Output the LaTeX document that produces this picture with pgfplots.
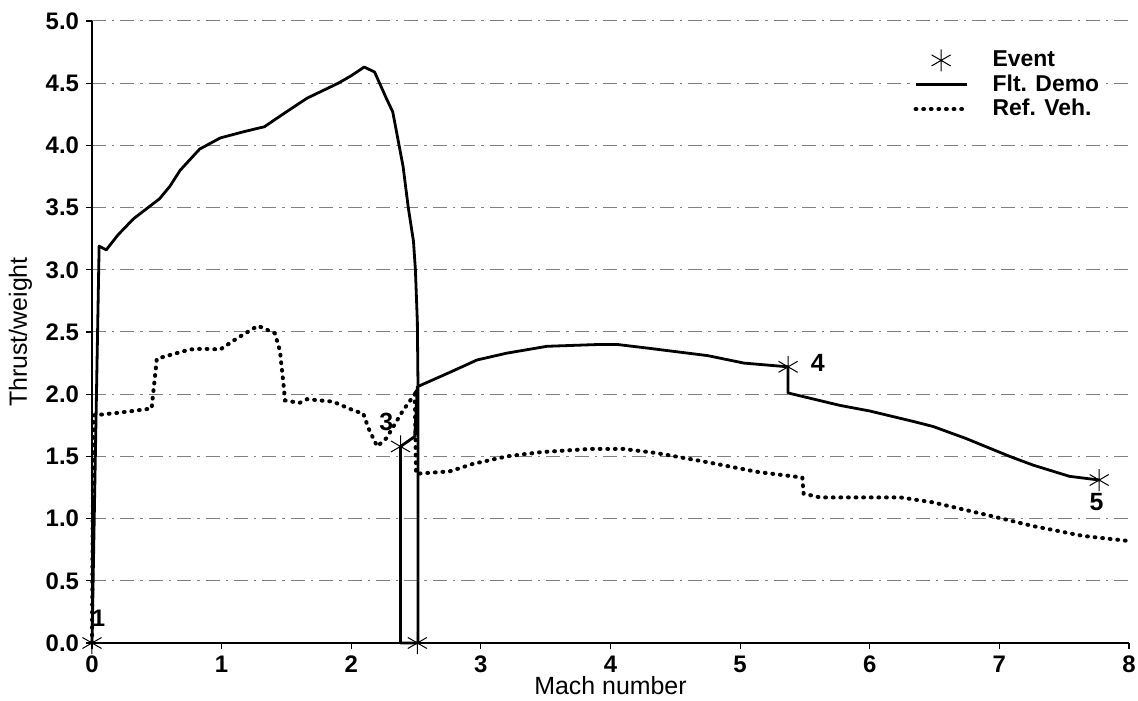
\documentclass[border=0pt]{standalone}
\usepackage{fontspec}
\setmainfont{Liberation Sans}
\usepackage{pgfplots}
\pgfplotsset{compat=1.18}

\begin{document}
\begin{tikzpicture}
\begin{axis}[
  scale only axis,
  width=518.5bp, height=311bp,
  xmin=0, xmax=8, ymin=0, ymax=5,
  clip=false,
  axis x line=bottom, axis y line=left,
  axis line style={-, black, line width=0.8bp},
  tick align=outside,
  major tick length=3bp,
  tick style={black, line width=0.6bp},
  xtick={0,1,...,8},
  ytick={0,0.5,...,5},
  /pgf/number format/assume math mode=true,
  yticklabel style={/pgf/number format/.cd, fixed, fixed zerofill, precision=1},
  tick label style={font=\bfseries\fontsize{12}{14}\selectfont},
  ymajorgrids,
  grid style={gray, line width=0.5bp, dash pattern=on 7bp off 3bp on 1.2bp off 3bp},
  xlabel={Mach number},
  ylabel={Thrust/weight},
  label style={font=\fontsize{12.5}{14}\selectfont},
  xlabel style={yshift=5bp},
  legend cell align=left,
  legend style={at={(axis cs:6.32,4.81)}, anchor=north west, draw=none, fill=white,
    font=\bfseries\fontsize{11.5}{13}\selectfont, row sep=-1.5bp, inner sep=1bp,
    /tikz/every odd column/.append style={column sep=10bp}},
  legend image code/.code={\draw[mark repeat=2,mark phase=2,#1] plot coordinates {(0cm,0cm) (0.45cm,0cm) (0.9cm,0cm)};},
]
% events
\addplot[only marks, mark=asterisk, mark size=5.5bp, mark options={line width=0.5bp, black}]
  coordinates {(0,0) (2.51,0) (2.38,1.58) (5.37,2.22) (7.77,1.31)};
% Flt. Demo
\addplot[black, line width=1.4bp, line join=round] coordinates {
  (0,0) (0.055,3.19) (0.11,3.16) (0.2,3.28) (0.32,3.41) (0.52,3.57) (0.6,3.67)
  (0.68,3.80) (0.83,3.97) (0.99,4.06) (1.17,4.11) (1.33,4.15) (1.50,4.27)
  (1.66,4.38) (1.9,4.50) (2.0,4.56) (2.1,4.63) (2.18,4.59) (2.27,4.38)
  (2.32,4.27) (2.40,3.83) (2.44,3.5) (2.48,3.23) (2.495,3.0) (2.51,2.58)
  (2.515,2.06) (2.515,0) (2.38,0) (2.38,1.58) (2.49,1.66) (2.51,2.06)
  (2.77,2.18) (2.97,2.275) (3.2,2.33) (3.51,2.385) (3.92,2.40) (4.05,2.40)
  (4.29,2.37) (4.75,2.31) (5.03,2.25) (5.37,2.22) (5.37,2.01) (5.77,1.91)
  (6.0,1.865) (6.34,1.78) (6.49,1.74) (6.74,1.645) (7.08,1.50) (7.26,1.43)
  (7.54,1.34) (7.77,1.31)
};
% Ref. Veh.
\addplot[black, line width=2bp, line cap=round, dash pattern=on 0.4bp off 3.4bp] coordinates {
  (0,0) (0.01,1.83) (0.2,1.85) (0.46,1.885) (0.5,2.285) (0.756,2.36) (0.86,2.365)
  (0.99,2.36) (1.12,2.45) (1.28,2.55) (1.41,2.49) (1.45,2.35) (1.49,1.95)
  (1.6,1.93) (1.66,1.96) (1.86,1.94) (2.04,1.86) (2.09,1.85) (2.14,1.71)
  (2.20,1.58) (2.27,1.645) (2.40,1.87) (2.49,2.0) (2.50,1.36) (2.76,1.38)
  (2.94,1.44) (3.20,1.50) (3.46,1.534) (3.84,1.56) (4.10,1.56) (4.36,1.526)
  (4.74,1.455) (5.13,1.376) (5.48,1.33) (5.49,1.2) (5.62,1.17) (6.24,1.17)
  (6.49,1.13) (6.88,1.035) (7.26,0.94) (7.65,0.86) (8.0,0.82)
};
\legend{Event, Flt. Demo, Ref. Veh.}
\node[font=\bfseries\fontsize{12}{14}\selectfont] at (axis cs:0.05,0.2) {1};
\node[font=\bfseries\fontsize{12.5}{14}\selectfont] at (axis cs:2.27,1.78) {3};
\node[font=\bfseries\fontsize{12.5}{14}\selectfont] at (axis cs:5.60,2.25) {4};
\node[font=\bfseries\fontsize{12.5}{14}\selectfont] at (axis cs:7.75,1.13) {5};
\end{axis}
\pgfresetboundingbox
\path[use as bounding box] (-46bp,-29bp) rectangle (523bp,321.5bp);
\end{tikzpicture}
\end{document}
